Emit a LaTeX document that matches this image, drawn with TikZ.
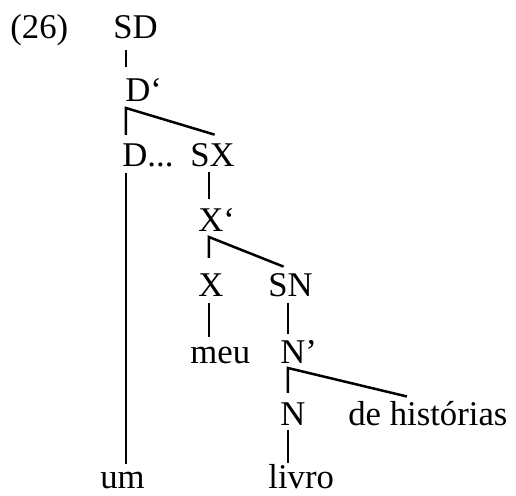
\documentclass[tikz,border=0pt]{standalone}
\usepackage{fontspec}
\setmainfont{Liberation Serif}
\begin{document}
\begin{tikzpicture}[x=0.5pt,y=-0.5pt,
  lbl/.style={anchor=base west,inner sep=0pt,font=\fontsize{17.35}{20}\selectfont},
  br/.style={line width=1.25pt}]
\useasboundingbox (0,0) rectangle (516,495);
\node[lbl] (ex) at (10,38) {(26)};
\node[lbl] (SD) at (113,38) {SD};
\node[lbl] (Dp) at (125,101) {D‘};
\node[lbl] (D) at (122,166) {D...};
\node[lbl] (SX) at (190,166) {SX};
\node[lbl] (Xp) at (198,231) {X‘};
\node[lbl] (X) at (198,296) {X};
\node[lbl] (SN) at (268,296) {SN};
\node[lbl] (meu) at (190,363) {meu};
\node[lbl] (Np) at (280,363) {N’};
\node[lbl] (N) at (280,425) {N};
\node[lbl] (dh) at (348,425) {de histórias};
\node[lbl] (livro) at (268,488) {livro};
\node[lbl] (um) at (100,488) {um};
% branch corners
\coordinate (c1) at ([xshift=0.5pt,yshift=-3.5pt]Dp.base west);
\coordinate (c2) at ([xshift=5.5pt,yshift=-3pt]Xp.base west);
\coordinate (c3) at ([xshift=4pt,yshift=-2.5pt]Np.base west);
% SD - D'
\draw[br,shorten <=6pt,shorten >=5pt] (SD.base -| c1) -- (Dp.north -| c1);
% D' branch
\draw[br,shorten <=4pt] (c1 |- D.north) -- (c1) -- ([xshift=1pt,yshift=4pt]SX.north);
% D... - um
\draw[br,shorten <=3.5pt,shorten >=3.5pt] (D.base -| c1) -- (um.north -| c1);
% SX - X'
\draw[br,shorten <=3pt,shorten >=4pt] (SX.base -| c2) -- (Xp.north -| c2);
% X' branch
\draw[br,shorten <=7.5pt] (c2 |- X.north) -- (c2) -- ([xshift=-3.5pt,yshift=3pt]SN.north);
% X - meu
\draw[br,shorten <=3.5pt,shorten >=4.5pt] (X.base -| c2) -- (meu.north -| c2);
% SN - N'
\draw[br,shorten <=3.5pt,shorten >=3pt] (SN.base -| c3) -- (Np.north -| c3);
% N' branch
\draw[br,shorten <=4.5pt] (c3 |- N.north) -- (c3) -- ([xshift=-10.5pt,yshift=2pt]dh.north);
% N - livro
\draw[br,shorten <=2.5pt,shorten >=0.5pt] (N.base -| c3) -- (livro.north -| c3);
\end{tikzpicture}
\end{document}
